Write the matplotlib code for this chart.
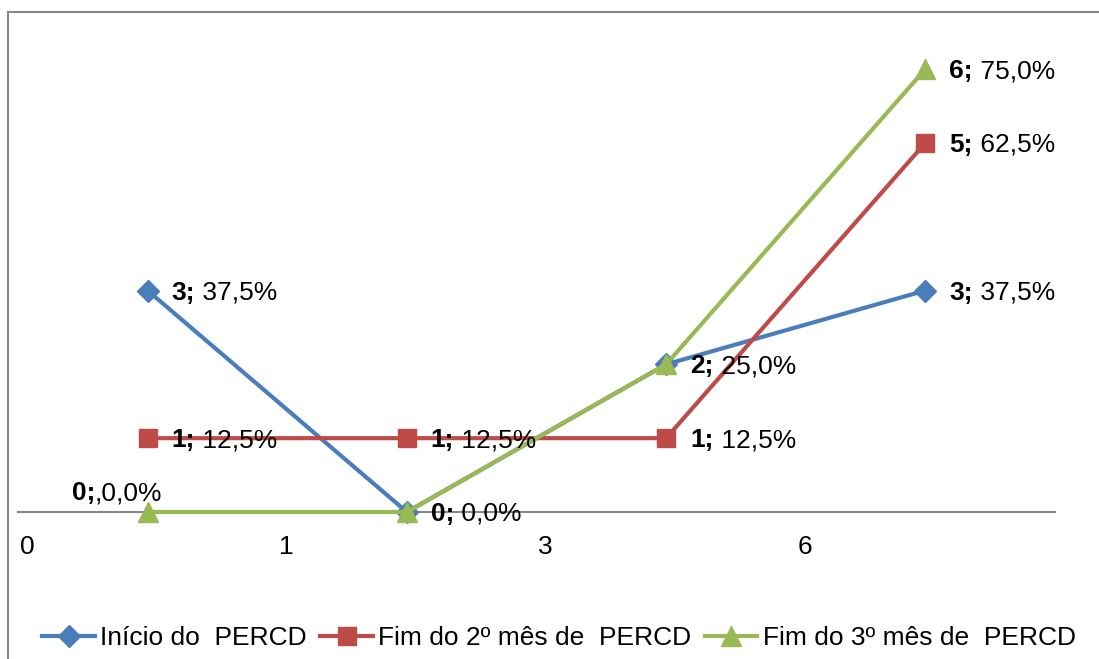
import matplotlib
matplotlib.use('Agg')
import matplotlib.pyplot as plt
from matplotlib.lines import Line2D

plt.rcParams['font.family'] = ['Liberation Sans', 'DejaVu Sans']

# data
categories = ['0', '1', '3', '6']
inicio = [3, 0, 2, 3]
fim_2mes = [1, 1, 1, 5]
fim_3mes = [0, 0, 2, 6]
total = 8
series_names = ['Início do  PERCD', 'Fim do 2º mês de  PERCD', 'Fim do 3º mês de  PERCD']

W, H = 1099, 659
FS = 19
fig = plt.figure(figsize=(W / 100, H / 100), dpi=100)
ax = fig.add_axes([18 / W, (H - 512) / H, (1055 - 18) / W, (512 - 20) / H])

x = list(range(len(categories)))
styles = [
    (inicio, '#4A7EBB', 'D', 11),
    (fim_2mes, '#BE4B48', 's', 13),
    (fim_3mes, '#98B954', '^', 14),
]
handles = []
for (vals, color, mk, ms), name in zip(styles, series_names):
    h, = ax.plot(x, vals, color=color, lw=3, marker=mk, ms=ms,
                 clip_on=False, zorder=3, label=name)
    handles.append(h)

# data labels (bold count; percent), skip ones hidden under another series
done = set()
for si, vals in enumerate([inicio, fim_2mes, fim_3mes]):
    for xi, v in enumerate(vals):
        if (xi, v) in done:
            continue
        done.add((xi, v))
        pct = f'{v / total * 100:.1f}%'.replace('.', ',')
        if si == 2 and xi == 0:
            off, sep = (-76, 19), ','
        else:
            off, sep = (24, -2), ' '
        txt = ax.annotate(f'{v};', (xi, v), xytext=off, textcoords='offset pixels',
                          ha='left', va='center', fontsize=FS, fontweight='bold', zorder=4)
        ax.annotate(sep + pct, xy=(1, 0.5), xycoords=txt, xytext=(0, 0),
                    textcoords='offset pixels', ha='left', va='center', fontsize=FS, zorder=4)

ax.set_xlim(-0.5, len(categories) - 0.5)
ax.set_ylim(0, 492 / 73.83)
ax.set_xticks([])
ax.set_yticks([])
for s in ['top', 'right', 'left']:
    ax.spines[s].set_visible(False)
ax.spines['bottom'].set_color('#888888')
ax.spines['bottom'].set_linewidth(1.5)

# category labels sit near left edge of each band
for xi, c in enumerate(categories):
    ax.annotate(c, (xi - 0.465, 0), xytext=(0, -35), textcoords='offset pixels',
                ha='center', va='center', fontsize=FS)

# outer frame (partially visible)
fig.add_artist(Line2D([8 / W, 1], [1 - 12 / H, 1 - 12 / H], color='#898989', lw=1.5))
fig.add_artist(Line2D([8 / W, 8 / W], [0, 1 - 12 / H], color='#898989', lw=1.5))

fig.legend(handles=handles, loc='center', bbox_to_anchor=(559 / W, 1 - 638 / H), ncol=3,
           frameon=False, fontsize=FS, handlelength=2.0, handletextpad=0.2,
           columnspacing=0.5)

fig.savefig('out.png', dpi=100)
